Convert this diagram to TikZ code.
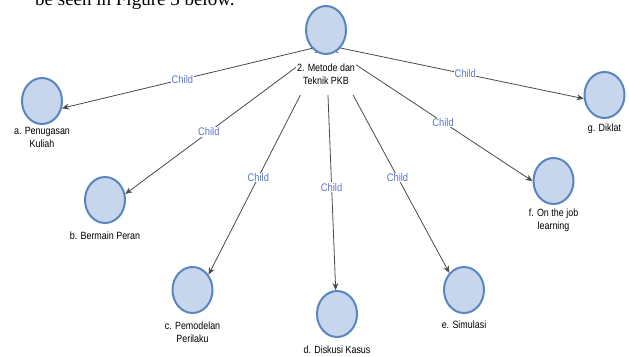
\documentclass[tikz,border=0pt]{standalone}
\usepackage{fontspec}
\setmainfont{Liberation Sans}
\newfontfamily\narrowsans{Liberation Sans}[FakeStretch=0.85]
\newfontfamily\bodyserif{Liberation Serif}
\usetikzlibrary{arrows.meta,shapes.geometric,intersections}
\definecolor{ringblue}{HTML}{5A86BE}
\definecolor{discfill}{HTML}{C7D6EC}
\definecolor{edgegray}{HTML}{454B48}
\definecolor{childblue}{HTML}{5B75C6}
\newcommand{\childlink}[2]{%
  \path[name path=ell#1] (#1.center) ellipse [x radius=21pt, y radius=24pt];
  \path[name path=seg#1] (hub) -- (aim#1);
  \path[name intersections={of=ell#1 and seg#1, by=tip#1}];
  \draw[link] (hub) -- node[childtag, pos=#2]{Child} (tip#1);
}
\begin{document}
\begin{tikzpicture}[x=1pt,y=-1pt,
  disc/.style={ellipse, draw=ringblue, fill=discfill, line width=2pt,
    minimum width=40pt, minimum height=46pt, inner sep=0pt},
  caption/.style={font=\narrowsans\fontsize{10.5}{13}\selectfont, align=center, inner sep=0pt},
  link/.style={draw=edgegray, line width=0.8pt, -{Stealth[length=7pt,width=6pt]}},
  childtag/.style={font=\narrowsans\fontsize{11}{12}\selectfont, text=childblue, fill=white, inner sep=0.6pt}]
\useasboundingbox (0,0) rectangle (629,356);
\clip (0,0) rectangle (629,356);
\node[anchor=base west, font=\bodyserif\fontsize{19}{22}\selectfont, inner sep=0pt] (intro) at (35,5.5) {be seen in Figure 3 below.};

\coordinate (hub) at (326,45);

\node[disc] (a) at (42,101) {};
\node[caption] (capa) at (42,137.5) {a. Penugasan\\Kuliah};
\coordinate (aima) at (42,113);

\node[disc] (b) at (105,200) {};
\node[caption] (capb) at (105,236) {b. Bermain Peran};
\coordinate (aimb) at (105,209);

\node[disc] (c) at (192.5,290) {};
\node[caption] (capc) at (192.5,332) {c. Pemodelan\\Perilaku};
\coordinate (aimc) at (192.5,306);

\node[disc] (d) at (337,314) {};
\node[caption] (capd) at (337,350) {d. Diskusi Kasus};
\coordinate (aimd) at (337,323);

\node[disc] (e) at (464,290) {};
\node[caption] (cape) at (464,325) {e. Simulasi};
\coordinate (aime) at (464,300);

\node[disc] (f) at (553.5,181) {};
\node[caption] (capf) at (553.5,220) {f. On the job\\learning};
\coordinate (aimf) at (553.5,195);

\node[disc] (g) at (604.5,95) {};
\node[caption] (capg) at (604.5,129) {g. Diklat};
\coordinate (aimg) at (604.5,103);

\childlink{a}{0.544}
\childlink{b}{0.584}
\childlink{c}{0.576}
\childlink{d}{0.58}
\childlink{e}{0.58}
\childlink{f}{0.567}
\childlink{g}{0.54}

\node[caption, fill=white, inner xsep=1pt, minimum height=42pt] (rootcap) at (326,74) {2. Metode dan\\Teknik PKB};
\node[disc, minimum height=48pt] (root) at (326,30) {};
\end{tikzpicture}
\end{document}
